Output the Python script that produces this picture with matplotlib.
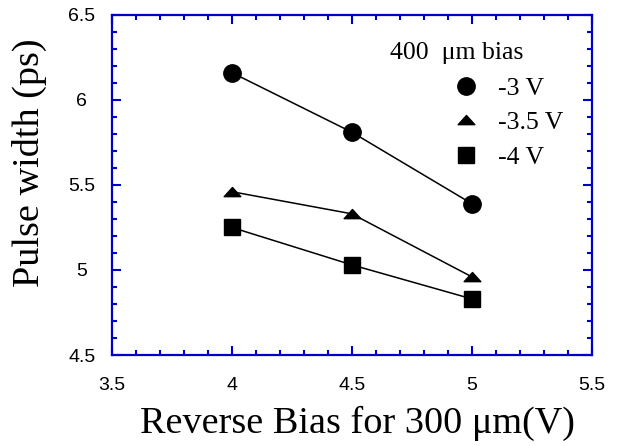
import matplotlib
matplotlib.use('Agg')
import matplotlib.pyplot as plt
from matplotlib.lines import Line2D
from matplotlib.path import Path
from matplotlib.ticker import MultipleLocator

# данные
bias_300 = [4.0, 4.5, 5.0]
width_3v = [6.16, 5.81, 5.39]
width_35v = [5.46, 5.33, 4.96]
width_4v = [5.25, 5.03, 4.83]
series_labels = ['-3 V', '-3.5 V', '-4 V']
x_ticks = [3.5, 4, 4.5, 5, 5.5]
y_ticks = [4.5, 5, 5.5, 6, 6.5]
x_tick_labels = ['3.5', '4', '4.5', '5', '5.5']
y_tick_labels = ['4.5', '5', '5.5', '6', '6.5']

SERIF = 'Liberation Serif'
SANS = 'Liberation Sans'
FRAME = '#0000cc'

# плоский треугольник, как в оригинале
tri = Path([(-1, -0.5), (1, -0.5), (0, 0.6), (-1, -0.5)],
           [Path.MOVETO, Path.LINETO, Path.LINETO, Path.CLOSEPOLY])


def main():
    fig = plt.figure(figsize=(6.19, 4.46), dpi=100)
    ax = fig.add_axes([0.1805, 0.204, 0.7754, 0.763])

    ax.plot(bias_300, width_3v, color='black', lw=1.1, marker='o', ms=12.5, mfc='black', mec='black')
    ax.plot(bias_300, width_35v, color='black', lw=1.1, marker=tri, ms=12, mfc='black', mec='black')
    ax.plot(bias_300, width_4v, color='black', lw=1.1, marker='s', ms=11.5, mfc='black', mec='black')

    ax.set_xlim(3.5, 5.5)
    ax.set_ylim(4.5, 6.5)
    ax.set_xticks(x_ticks)
    ax.set_xticklabels(x_tick_labels, fontfamily=SANS, fontsize=14)
    ax.set_yticks(y_ticks)
    ax.set_yticklabels(y_tick_labels, fontfamily=SANS, fontsize=14, ha='center')
    ax.xaxis.set_minor_locator(MultipleLocator(0.1))
    ax.yaxis.set_minor_locator(MultipleLocator(0.1))

    ax.tick_params(which='both', direction='in', top=True, right=True, color=FRAME, width=1.5)
    ax.tick_params(which='major', length=6.5)
    ax.tick_params(which='minor', length=3.6)
    ax.tick_params(axis='x', which='major', pad=15.5)
    ax.tick_params(axis='y', which='major', pad=21.5)
    for sp in ax.spines.values():
        sp.set_color(FRAME)
        sp.set_linewidth(1.6)

    ax.set_xlabel('Reverse Bias for 300 μm(V)', fontfamily=SERIF, fontsize=27.5, va='baseline')
    ax.xaxis.set_label_coords(0.512, -0.229)
    ax.set_ylabel('Pulse width (ps)', fontfamily=SERIF, fontsize=27.5, va='center')
    ax.yaxis.set_label_coords(-0.171, 0.564)

    # легенда
    ax.text(0.58, 0.870, '400  μm bias', transform=ax.transAxes, fontfamily=SERIF,
            fontsize=18.5, ha='left', va='baseline')
    handles = [
        Line2D([], [], ls='none', marker='o', ms=12.5, color='black'),
        Line2D([], [], ls='none', marker=tri, ms=12, color='black'),
        Line2D([], [], ls='none', marker='s', ms=11.5, color='black'),
    ]
    ax.legend(handles, series_labels, loc='upper left', bbox_to_anchor=(0.713, 0.818),
              frameon=False, borderpad=0, borderaxespad=0, handlelength=0.92,
              handletextpad=0.8, labelspacing=0.45,
              prop={'family': SERIF, 'size': 18.5})

    fig.savefig('out.png', dpi=100)


if __name__ == '__main__':
    main()
